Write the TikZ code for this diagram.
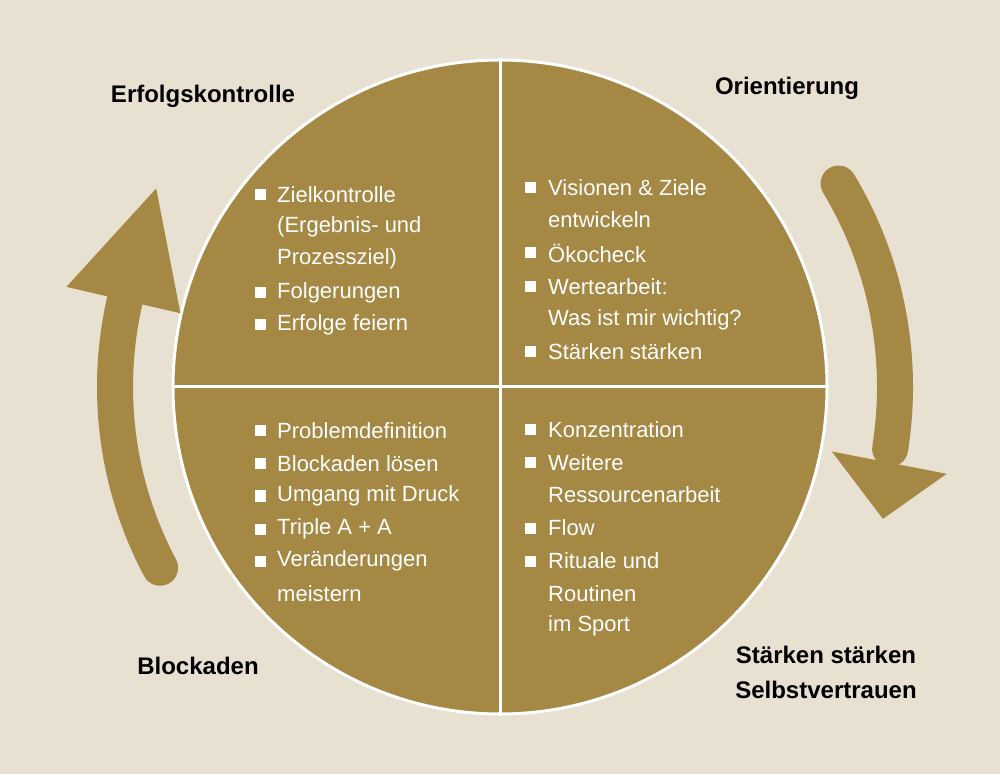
\documentclass[tikz,border=0pt]{standalone}
\usepackage{fontspec}
\setmainfont{Liberation Sans}
\definecolor{bg}{HTML}{E8E0D0}
\definecolor{gold}{HTML}{A58843}
\begin{document}
\begin{tikzpicture}[x=1pt,y=1pt,
  itemtext/.style={anchor=west,text=white,font=\fontsize{22}{26}\selectfont,inner sep=0pt},
  bul/.style={fill=white,minimum size=11pt,inner sep=0pt},
  lab/.style={font=\fontsize{24}{30}\selectfont\bfseries,text=black,align=center}]
\fill[bg] (0,0) rectangle (1000,774);
\useasboundingbox (0,0) rectangle (1000,774);
\node[circle,fill=gold,draw=white,line width=3pt,minimum size=654pt,inner sep=0pt] (c) at (500,387) {};
\draw[white,line width=3pt] (c.north) -- (c.south) (c.west) -- (c.east);
% arrows
\begin{scope}[shift={(500,387)}]
\draw[gold,line width=36pt,line cap=round] (208:385) arc (208:165:385);
\fill[gold] (167:328) -- (167:445) -- (150:397) -- cycle;
\draw[gold,line width=36pt,line cap=round] (31:395) arc (31:-9:395);
\fill[gold] (-11:338) -- (-11:455) -- (-19:405) -- cycle;
\end{scope}
% labels
\node[lab] (l1) at (203,678) {Erfolgskontrolle};
\node[lab] (l2) at (787,686) {Orientierung};
\node[lab] (l3) at (198,108) {Blockaden};
\node[lab,font=\fontsize{24}{35}\selectfont\bfseries] (l4) at (826,102) {Stärken stärken\\Selbstvertrauen};
% TL
\foreach \t/\y/\b [count=\i] in {{Zielkontrolle}/195/1,{(Ergebnis- und}/227/0,{Prozessziel)}/259/0,{Folgerungen}/293/1,{Erfolge feiern}/325/1}{
  \node[itemtext] (tl\i) at (277,774-\y) {\t};
  \ifnum\b=1 \node[bul] (tlb\i) at (260,774-\y) {};\fi}
% TR
\foreach \t/\y/\b [count=\i] in {{Visionen \& Ziele}/188/1,{entwickeln}/220/0,{Ökocheck}/253/1,{Wertearbeit:}/287/1,{Was ist mir wichtig?}/320/0,{Stärken stärken}/352/1}{
  \node[itemtext] (tr\i) at (548,774-\y) {\t};
  \ifnum\b=1 \node[bul] (trb\i) at (530,774-\y) {};\fi}
% BL
\foreach \t/\y/\b [count=\i] in {{Problemdefinition}/431/1,{Blockaden lösen}/464/1,{Umgang mit Druck}/496/1,{Triple A + A}/529/1,{Veränderungen}/561/1,{meistern}/594/0}{
  \node[itemtext] (bl\i) at (277,774-\y) {\t};
  \ifnum\b=1 \node[bul] (blb\i) at (260,774-\y) {};\fi}
% BR
\foreach \t/\y/\b [count=\i] in {{Konzentration}/430/1,{Weitere}/463/1,{Ressourcenarbeit}/495/0,{Flow}/528/1,{Rituale und}/561/1,{Routinen}/594/0,{im Sport}/626/0}{
  \node[itemtext] (br\i) at (548,774-\y) {\t};
  \ifnum\b=1 \node[bul] (brb\i) at (530,774-\y) {};\fi}
\end{tikzpicture}
\end{document}
